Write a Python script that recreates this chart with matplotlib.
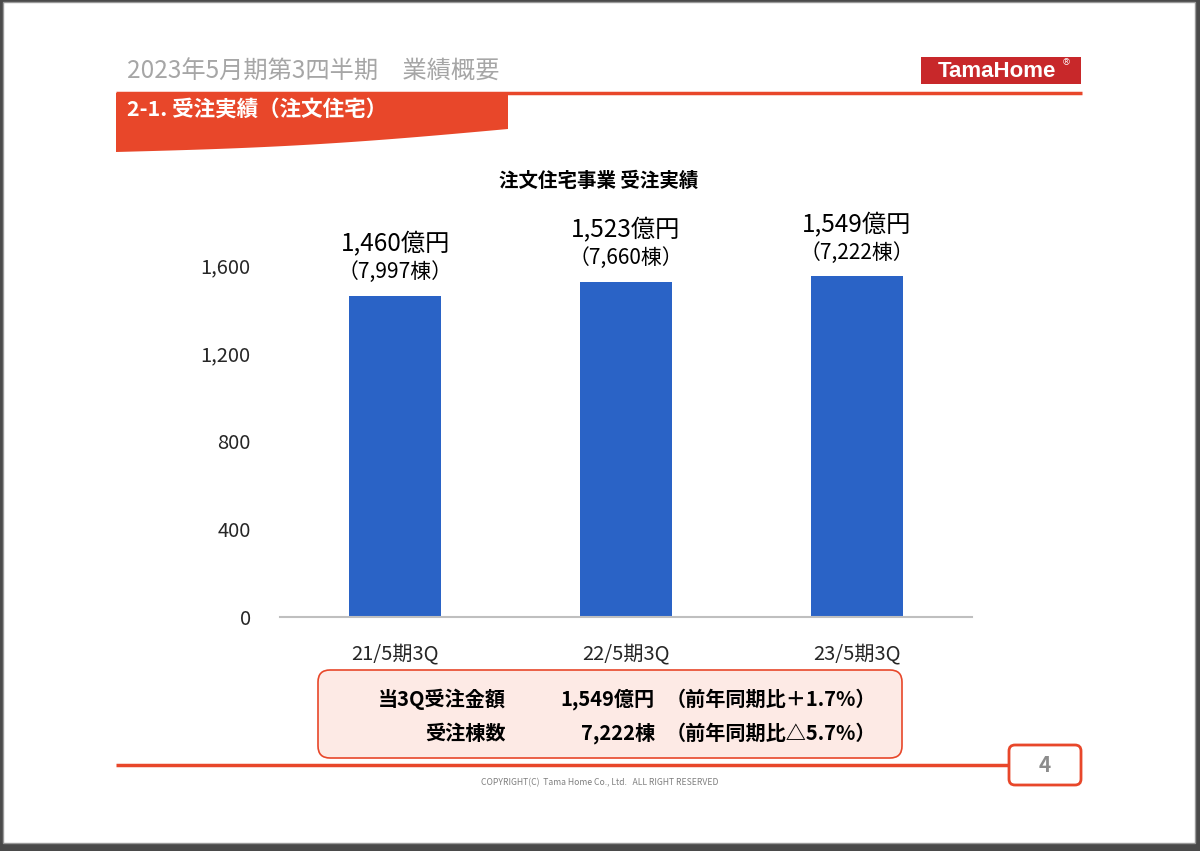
import numpy as np
import matplotlib
matplotlib.use("Agg")
import matplotlib.pyplot as plt
from matplotlib.patches import Rectangle, FancyBboxPatch, Polygon

plt.rcParams['font.family'] = ['Noto Sans CJK JP', 'DejaVu Sans']

# data
categories = ['21/5期3Q', '22/5期3Q', '23/5期3Q']
orders_oku = [1460, 1523, 1549]
units = [7997, 7660, 7222]
yticks = [0, 400, 800, 1200, 1600]

RED = '#e8472a'
BLUE = '#2a63c6'

W, H = 1200, 851
fig = plt.figure(figsize=(12, 8.51), dpi=100)
fig.patch.set_facecolor('#4a4a4a')

# page layer in pixel coordinates
page = fig.add_axes([0, 0, 1, 1])
page.set_xlim(0, W)
page.set_ylim(H, 0)
page.axis('off')
page.add_patch(Rectangle((3, 2), 1192, 841, facecolor='white', edgecolor='#9a9a9a', lw=1))

# header
page.text(127, 72, '2023年5月期第3四半期\u3000業績概要', fontsize=17.5, color='#a6a6a6',
          va='center', ha='left')
page.add_patch(Rectangle((921, 57), 160, 27, facecolor='#c8282a', edgecolor='none'))
page.text(997, 71.5, 'TamaHome', fontsize=16, fontweight='bold', color='white',
          ha='center', va='center', family='Liberation Sans')
page.text(1066, 63, '®', fontsize=6.5, color='white', ha='center', va='center',
          family='DejaVu Sans')
page.plot([116, 1082], [93, 93], color=RED, lw=2.5, solid_capstyle='butt')

# banner with wavy bottom
t = np.linspace(0, 1, 60)
bx = 508 - t * (508 - 116)
by = 129 + t * 23 + 4 * np.sin(t * np.pi)
banner = np.vstack([[116, 93], [508, 93], np.column_stack([bx, by])])
page.add_patch(Polygon(banner, closed=True, facecolor=RED, edgecolor='none'))
page.text(127, 109, '2-1. 受注実績（注文住宅）', fontsize=15.5, fontweight='bold',
          color='white', va='center', ha='left')

# footer
page.plot([116, 1008], [765, 765], color=RED, lw=2.5, solid_capstyle='butt')
page.add_patch(FancyBboxPatch((1009, 745), 72, 40, boxstyle='round,pad=0,rounding_size=6',
                              facecolor='white', edgecolor=RED, lw=2))
page.text(1045, 766, '4', fontsize=15, fontweight='bold', color='#8c8c8c',
          ha='center', va='center')
page.text(600, 783, 'COPYRIGHT(C)  Tama Home Co., Ltd.   ALL RIGHT RESERVED', fontsize=6.2,
          color='#7f7f7f', ha='center', va='center')

# summary box
page.add_patch(FancyBboxPatch((318, 670), 584, 88, boxstyle='round,pad=0,rounding_size=12',
                              facecolor='#fdeae5', edgecolor=RED, lw=1.2))
rows = [('当3Q受注金額', f'{orders_oku[-1]:,}億円',
         f'（前年同期比＋{(orders_oku[-1] / orders_oku[-2] - 1) * 100:.1f}%）'),
        ('受注棟数', f'{units[-1]:,}棟',
         f'（前年同期比△{(1 - units[-1] / units[-2]) * 100:.1f}%）')]
for (lab, val, cmp), y in zip(rows, [699, 733]):
    page.text(506, y, lab, fontsize=14.5, fontweight='bold', ha='right', va='center')
    page.text(655, y, val, fontsize=14.5, fontweight='bold', ha='right', va='center')
    page.text(876, y, cmp, fontsize=14.5, fontweight='bold', ha='right', va='center')

page.text(599, 181, '注文住宅事業 受注実績', fontsize=14, fontweight='bold',
          ha='center', va='center')

# chart
ax = fig.add_axes([280 / W, 1 - 617 / H, 692 / W, 396 / H])
ax.set_facecolor('none')
x = np.arange(len(categories))
ax.bar(x, orders_oku, width=0.4, color=BLUE)
ax.set_xlim(-0.5, len(categories) - 0.5)
ax.set_ylim(0, 1800)
ax.set_yticks(yticks)
ax.set_yticklabels([f'{v:,}' for v in yticks], fontsize=14.5, color='#262626')
ax.set_xticks(x)
ax.set_xticklabels(categories, fontsize=14.5, color='#262626')
ax.tick_params(axis='both', length=0)
ax.tick_params(axis='y', pad=21)
ax.tick_params(axis='x', pad=19)
for s in ['top', 'right', 'left']:
    ax.spines[s].set_visible(False)
ax.spines['bottom'].set_color('#bfbfbf')
ax.spines['bottom'].set_linewidth(1.5)

for xi, v, u in zip(x, orders_oku, units):
    ax.annotate(f'{v:,}億円', (xi, v), xytext=(0, 37), textcoords='offset points',
                ha='center', va='center', fontsize=17.5)
    ax.annotate(f'（{u:,}棟）', (xi, v), xytext=(0, 17), textcoords='offset points',
                ha='center', va='center', fontsize=15)

fig.savefig('out.png', dpi=100, facecolor=fig.get_facecolor())
